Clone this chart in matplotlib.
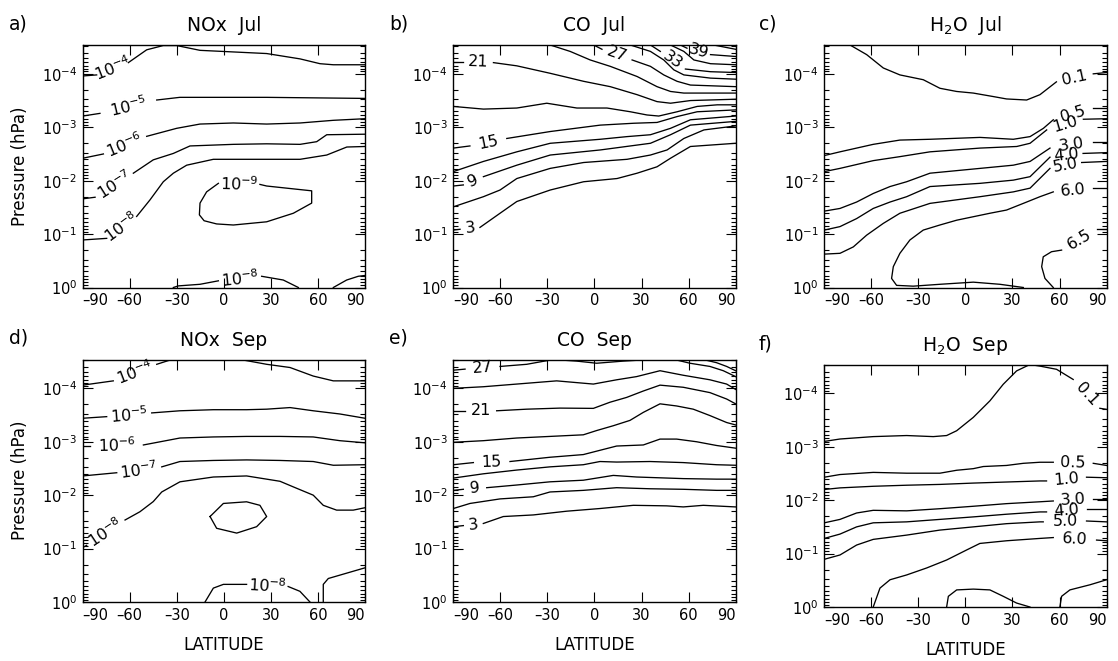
import numpy as np
import matplotlib.pyplot as plt
from matplotlib.ticker import NullLocator, FuncFormatter

plt.rcParams['font.family'] = ['DejaVu Sans']

LAT_TICKS = [-90, -60, -30, 0, 30, 60, 90]
LOGP_TOP = -4.54          # top of the pressure axis, log10(hPa)

# every contour: (label, latitudes, log10 pressure, index of the segment left open for the label)
NOX_JUL = [
    (r'$\mathdefault{10^{-4}}$',
     [-90, -81.1, -60.9, -49.2, -38.6, -30.1, -15.2, 6.05, 27.3, 48.6, 61.3, 69.8, 90],
     [-3.96, -3.98, -4.21, -4.45, -4.53, -4.53, -4.44, -4.41, -4.38, -4.28, -4.19, -4.17, -4.17], 1),
    (r'$\mathdefault{10^{-5}}$',
     [-90, -79, -42.8, -28.1, 6, 27.3, 90],
     [-3.21, -3.26, -3.51, -3.56, -3.56, -3.56, -3.54], 1),
    (r'$\mathdefault{10^{-6}}$',
     [-90, -76.8, -49.2, -30.1, -15.2, 6.05, 27.3, 48.6, 69.8, 90],
     [-2.42, -2.5, -2.83, -2.98, -3.06, -3.08, -3.06, -3.08, -3.13, -3.16], 1),
    (r'$\mathdefault{10^{-7}}$',
     [-90, -82.1, -57.7, -45, -32.2, -21.6, 6.05, 27.3, 48.6, 59.2, 65.6, 90],
     [-1.66, -1.69, -2.14, -2.39, -2.51, -2.65, -2.68, -2.69, -2.68, -2.73, -2.86, -2.87], 1),
    (r'$\mathdefault{10^{-8}}$',
     [-90, -74.7, -55.6, -47.1, -38.6, -32.2, -23.7, -6.7, 6.05, 27.3, 48.6, 65.6, 78.4, 90],
     [-0.89, -0.92, -1.33, -1.64, -1.98, -2.14, -2.29, -2.4, -2.4, -2.4, -2.4, -2.48, -2.63, -2.64], 1),
    (r'$\mathdefault{10^{-9}}$',
     [23, 27.3, 46.4, 56, 56, 44.3, 27.3, 6.05, -4.6, -12.6, -15.6, -15.2, -11, -3.5, 23],
     [-1.93, -1.9, -1.84, -1.81, -1.58, -1.39, -1.23, -1.17, -1.19, -1.25, -1.36, -1.58, -1.79, -1.95, -1.93], 13),
    (r'$\mathdefault{10^{-8}}$',
     [-32.2, -29, -15.2, -3.5, 24.1, 37.9, 47.5],
     [0, -0.03, -0.06, -0.125, -0.21, -0.14, 0], 3),
    (None, [69.8, 78.3, 85.7, 90], [0, -0.14, -0.21, -0.225], None),
]

CO_JUL = [
    ('3', [-90, -85.7, -73, -60.2, -49.5, -28.2, -6.9, 14.4, 27.2, 39.9, 48.5, 61.2, 90],
     [-1.075, -1.09, -1.125, -1.39, -1.61, -1.825, -1.98, -2.04, -2.14, -2.26, -2.42, -2.64, -2.7], 1),
    (None, [-90, -70.8, -60.2, -49.5, -28.2, -6.9, 20.8, 35.7, 46.3, 57, 69.8, 90],
     [-1.51, -1.7, -1.825, -2.04, -2.23, -2.34, -2.4, -2.48, -2.575, -2.79, -2.95, -3.025], None),
    ('9', [-90, -83.6, -70.8, -49.5, -28.2, 3.7, 22.9, 35.7, 48.5, 61.2, 90],
     [-1.9, -1.92, -2.075, -2.29, -2.48, -2.575, -2.65, -2.7, -2.86, -3.04, -3.11], 1),
    (None, [-90, -70.8, -49.5, -28.2, 3.7, 20.8, 35.7, 48.5, 61.2, 90],
     [-2.17, -2.36, -2.54, -2.7, -2.775, -2.825, -2.86, -2.98, -3.14, -3.21], None),
    ('15', [-90, -79.4, -55.9, -28.2, 3.7, 25, 39.9, 52.7, 65.5, 90],
     [-2.61, -2.65, -2.79, -2.92, -3.04, -3.075, -3.09, -3.2, -3.29, -3.325], 1),
    (None, [-90, -70.8, -49.5, -30.4, -11.2, 8, 22.9, 33.5, 41, 52.7, 65.5, 78.3, 90],
     [-3.39, -3.34, -3.36, -3.45, -3.36, -3.36, -3.29, -3.23, -3.21, -3.29, -3.39, -3.42, -3.42], None),
    ('21', [-90, -83.6, -64.4, -49.5, -28.2, -6.9, 10.1, 27.2, 39.9, 48.5, 61.2, 90],
     [-4.23, -4.23, -4.21, -4.15, -4.01, -3.86, -3.76, -3.61, -3.48, -3.45, -3.5, -3.525], 1),
    (None, [-28.2, -15.5, -2.7, 10.1, 27.2, 39.9, 48.5, 57, 90],
     [-4.54, -4.42, -4.26, -4.14, -3.95, -3.76, -3.67, -3.64, -3.64], None),
    ('27', [-0.5, 4.8, 24, 35.7, 44.2, 52.7, 61.2, 90],
     [-4.54, -4.46, -4.26, -4.14, -3.98, -3.86, -3.79, -3.76], 1),
    (None, [22.9, 35.7, 44.2, 50.6, 57, 74, 90],
     [-4.54, -4.42, -4.26, -4.075, -3.98, -3.92, -3.9], None),
    ('33', [35.7, 42, 58, 74, 90], [-4.54, -4.42, -4.09, -4.04, -4.025], 1),
    (None, [48.5, 57, 63.4, 74, 90], [-4.54, -4.42, -4.26, -4.19, -4.17], None),
    ('39', [54.8, 59, 74, 90], [-4.54, -4.48, -4.36, -4.325], 1),
    (None, [76, 90], [-4.54, -4.46], None),
]

H2O_JUL = [
    ('0.1', [-73.6, -63, -52.4, -41.8, -26.9, -16.3, -5.6, 5, 17.7, 26.2, 39, 47.5, 58, 81.5, 90],
     [-4.54, -4.36, -4.11, -3.98, -3.89, -3.73, -3.67, -3.64, -3.575, -3.53, -3.51, -3.61, -3.85, -4.0, -4.025], 12),
    ('0.5', [-90, -80, -58.8, -41.8, -22.6, 9.3, 30.5, 41.2, 49.7, 56, 81.5, 90],
     [-2.47, -2.54, -2.68, -2.76, -2.775, -2.81, -2.775, -2.825, -2.98, -3.14, -3.36, -3.36], 9),
    ('1.0', [-90, -80, -58.8, -41.8, -22.6, 9.3, 32.7, 41.2, 51.8, 75.2, 90],
     [-2.17, -2.23, -2.375, -2.45, -2.54, -2.61, -2.64, -2.7, -2.95, -3.15, -3.16], 8),
    ('3.0', [-90, -80, -69.4, -58.8, -48.1, -37.5, -22.6, 9.3, 30.5, 41.2, 53.9, 81.5, 90],
     [-1.43, -1.48, -1.6, -1.76, -1.89, -1.98, -2.14, -2.23, -2.29, -2.36, -2.61, -2.73, -2.73], 10),
    ('4.0', [-90, -80, -69.4, -58.8, -48.1, -37.5, -22.6, 9.3, 30.5, 41.2, 53.9, 75, 90],
     [-1.075, -1.14, -1.29, -1.48, -1.6, -1.7, -1.89, -1.95, -2.01, -2.075, -2.44, -2.51, -2.525], 10),
    ('5.0', [-90, -80, -71.5, -63, -52.4, -41.8, -22.6, 9.3, 30.5, 41.2, 53.9, 74.1, 90],
     [-0.625, -0.64, -0.76, -0.98, -1.2, -1.39, -1.575, -1.7, -1.79, -1.86, -2.23, -2.34, -2.36], 10),
    ('6.0', [36.9, 22, 5, -16.3, -33.3, -43.9, -47.1, -46, -41.8, -35.4, -26.9, -16.3, -5.6, 5, 15.6,
             26.2, 36.9, 47.5, 56, 81.5, 90],
     [0, -0.06, -0.1, -0.06, -0.025, -0.04, -0.17, -0.39, -0.64, -0.89, -1.075, -1.17, -1.26, -1.325,
      -1.39, -1.45, -1.575, -1.7, -1.79, -1.86, -1.86], 18),
    ('6.5', [56, 50.7, 48.6, 49.6, 54.9, 61.3, 83.6, 90],
     [0, -0.17, -0.39, -0.575, -0.67, -0.7, -1.09, -1.09], 5),
]

NOX_SEP = [
    (r'$\mathdefault{10^{-4}}$', [-90, -70.5, -42.8, -34.3], [-4.06, -4.14, -4.45, -4.53], 1),
    (None, [12.4, 27.3, 42.2, 57, 69.8, 90], [-4.53, -4.45, -4.39, -4.23, -4.14, -4.14], None),
    (r'$\mathdefault{10^{-5}}$',
     [-90, -74.7, -46, -28, -6.7, 14.5, 27.3, 42.2, 57, 74, 90],
     [-3.44, -3.47, -3.54, -3.58, -3.6, -3.6, -3.61, -3.64, -3.58, -3.52, -3.44], 1),
    (r'$\mathdefault{10^{-6}}$',
     [-90, -85.3, -51.3, -28, -6.7, 14.5, 35.8, 57, 74, 90],
     [-2.92, -2.92, -2.94, -3.07, -3.09, -3.1, -3.1, -3.09, -3.02, -2.98], 1),
    (r'$\mathdefault{10^{-7}}$',
     [-90, -68.3, -39.6, -28, -6.7, 14.5, 35.8, 57, 69.8, 90],
     [-2.36, -2.42, -2.53, -2.63, -2.65, -2.66, -2.65, -2.63, -2.56, -2.57], 1),
    (r'$\mathdefault{10^{-8}}$',
     [-90, -87.5, -63, -53.5, -45, -39.6, -28, -6.7, 14.5, 35.8, 44.3, 57, 63.4, 71.9, 82.5, 90],
     [-1.02, -1.06, -1.535, -1.69, -1.88, -2.06, -2.25, -2.34, -2.36, -2.26, -2.155, -2.0, -1.81,
      -1.72, -1.72, -1.765], 1),
    (None, [-8.8, -0.3, 14.5, 23, 27.3, 20.9, 8.2, -4.6, -8.8],
     [-1.6, -1.845, -1.876, -1.81, -1.6, -1.41, -1.29, -1.38, -1.6], None),
    (r'$\mathdefault{10^{-8}}$', [-12, -6.7, -0.3, 14.5, 41, 48.5, 54.9],
     [0, -0.26, -0.33, -0.33, -0.29, -0.2, 0], 3),
    (None, [63.4, 63.4, 66.6, 78.3, 90], [0, -0.33, -0.44, -0.54, -0.64], None),
]

CO_SEP = [
    ('3', [-90, -83.6, -70.85, -58.1, -39, -17.7, 3.5, 24.8, 46, 56.65, 69.4, 90],
     [-1.41, -1.43, -1.47, -1.6, -1.63, -1.7, -1.75, -1.81, -1.8, -1.78, -1.81, -1.78], 1),
    (None, [-90, -79.35, -60.2, -39, -28.35, -7.1, 14.15, 35.4, 56.65, 77.9, 90],
     [-1.75, -1.845, -1.93, -1.97, -2.06, -2.09, -2.14, -2.12, -2.11, -2.09, -2.09], None),
    ('9', [-90, -83.6, -68.7, -49.6, -28.35, -7.1, 12, 26.9, 56.65, 77.9, 90],
     [-2.09, -2.11, -2.14, -2.19, -2.25, -2.28, -2.37, -2.34, -2.31, -2.3, -2.3], 1),
    (None, [-90, -70.85, -49.6, -28.35, -7.1, 3.5, 14.15, 35.4, 56.65, 77.9, 90],
     [-2.32, -2.4, -2.47, -2.53, -2.57, -2.63, -2.62, -2.63, -2.61, -2.57, -2.56], None),
    ('15', [-90, -77.2, -53.85, -28.35, -7.1, 3.5, 14.15, 31.15, 41.8, 52.4, 65.15, 77.9, 90],
     [-2.57, -2.61, -2.63, -2.71, -2.76, -2.84, -2.92, -2.94, -3.05, -3.05, -3.0, -2.93, -2.88], 1),
    (None, [-90, -70.85, -49.6, -28.35, -7.1, 1.4, 12, 22.65, 31.15, 41.8, 52.4, 63, 73.65, 84.3, 90],
     [-2.99, -3.02, -3.07, -3.1, -3.13, -3.21, -3.3, -3.4, -3.55, -3.71, -3.67, -3.61, -3.49, -3.36,
      -3.315], None),
    ('21', [-90, -82.5, -62.35, -43.2, -22, -0.7, 9.9, 20.5, 31.15, 41.8, 56.65, 73.65, 84.3, 90],
     [-3.58, -3.58, -3.58, -3.61, -3.63, -3.625, -3.74, -3.83, -3.95, -4.06, -4.02, -3.92, -3.8, -3.71], 1),
    (None, [-90, -70.85, -49.6, -24.1, -0.7, 14.15, 26.9, 41.8, 56.65, 73.65, 84.3, 90],
     [-4.0, -4.03, -4.08, -4.14, -4.08, -4.16, -4.22, -4.33, -4.245, -4.16, -4.08, -3.98], None),
    ('27', [-90, -82.5, -60.2, -43.2, -26.2, -11.35, 1.4, 18.4, 35.4, 52.4, 60.9, 73.65, 82.15, 90],
     [-4.34, -4.36, -4.41, -4.45, -4.54, -4.51, -4.47, -4.51, -4.54, -4.53, -4.47, -4.41, -4.33, -4.22], 1),
    (None, [69.4, 77.9, 84.3, 90], [-4.54, -4.48, -4.41, -4.33], None),
]

H2O_SEP = [
    ('0.1', [-90, -80, -58.8, -37.5, -20.5, -12, -5.6, 5, 15.6, 24.1, 32.6, 41.1, 47.5, 58.1, 68.7, 85.7, 90],
     [-3.1, -3.145, -3.19, -3.21, -3.19, -3.21, -3.3, -3.55, -3.86, -4.17, -4.42, -4.54, -4.51, -4.45,
      -4.26, -3.72, -3.7], 14),
    ('0.5', [-90, -80, -58.8, -37.5, -16.3, -5.6, 5, 11.4, 26.2, 36.9, 47.5, 56, 81.5, 90],
     [-2.43, -2.48, -2.52, -2.505, -2.505, -2.56, -2.59, -2.63, -2.65, -2.69, -2.71, -2.71, -2.69, -2.65], 11),
    ('1.0', [-90, -80, -58.8, -37.5, -16.3, 5, 26.2, 47.5, 51.7, 77.2, 90],
     [-2.2, -2.23, -2.26, -2.28, -2.295, -2.32, -2.34, -2.36, -2.36, -2.43, -2.42], 8),
    ('3.0', [-90, -80, -69.4, -58.8, -37.5, -16.3, 5, 26.2, 47.5, 56, 81.5, 90],
     [-1.576, -1.64, -1.76, -1.81, -1.8, -1.84, -1.886, -1.935, -1.97, -1.985, -2.03, -2.03], 9),
    ('4.0', [-90, -80, -69.4, -58.8, -37.5, -16.3, 5, 26.2, 47.5, 51.7, 77.2, 90],
     [-1.284, -1.365, -1.5, -1.576, -1.594, -1.64, -1.687, -1.737, -1.78, -1.78, -1.84, -1.84], 9),
    ('5.0', [-90, -80, -69.4, -58.8, -37.5, -16.3, 5, 26.2, 47.5, 49.6, 77.2, 90],
     [-0.893, -0.974, -1.16, -1.266, -1.346, -1.44, -1.5, -1.56, -1.594, -1.594, -1.61, -1.594], 9),
    ('6.0', [-58.8, -54.5, -48.1, -37.5, -24.8, -12, 0.7, 9.2, 26.2, 47.5, 56, 83.6, 90],
     [0, -0.354, -0.51, -0.6, -0.73, -0.88, -1.067, -1.19, -1.24, -1.284, -1.3, -1.253, -1.24], 10),
    (None, [-12, -10.9, -5.6, 5, 15.6, 24.1, 32.6, 41.1],
     [0, -0.2, -0.32, -0.335, -0.32, -0.2, -0.074, 0], None),
    (None, [60.2, 61.3, 66.6, 79.4, 90], [0, -0.2, -0.32, -0.416, -0.51], None),
]

PANELS = [
    ('a)', 'NOx  Jul', NOX_JUL), ('b)', 'CO  Jul', CO_JUL), ('c)', r'H$_2$O  Jul', H2O_JUL),
    ('d)', 'NOx  Sep', NOX_SEP), ('e)', 'CO  Sep', CO_SEP), ('f)', r'H$_2$O  Sep', H2O_SEP),
]

W, H = 1118, 661
LEFTS = [82.7, 453.3, 824.3]
TOPS = [45.0, 359.5]
AX_W, AX_H = 282.3, 242.5
LETTER_X = [9, 389, 759]
SHIFT_F = 5      # panel f sits a few pixels lower in the reference


def draw_lines(ax, lines):
    for text, lat, logp, gap in lines:
        lat = np.asarray(lat, dtype=float)
        p = 10.0 ** np.asarray(logp, dtype=float)
        if gap is None:
            ax.plot(lat, p, color='k', lw=0.95)
            continue
        ax.plot(lat[:gap + 1], p[:gap + 1], color='k', lw=0.95)
        ax.plot(lat[gap + 1:], p[gap + 1:], color='k', lw=0.95)
        # label sits in the open segment, turned along it
        (x0, y0), (x1, y1) = ax.transData.transform([(lat[gap], p[gap]), (lat[gap + 1], p[gap + 1])])
        ang = np.degrees(np.arctan2(y1 - y0, x1 - x0))
        if ang > 90:
            ang -= 180
        elif ang < -90:
            ang += 180
        xm, ym = ax.transData.inverted().transform(((x0 + x1) / 2, (y0 + y1) / 2))
        ax.text(xm, ym, text, rotation=ang, rotation_mode='anchor',
                ha='center', va='center', fontsize=11.5)


lat_fmt = FuncFormatter(lambda v, pos: f'{v:.0f}'.replace('-', '\u2013'))

fig = plt.figure(figsize=(W / 100, H / 100), dpi=100)

for i, (letter, title, lines) in enumerate(PANELS):
    row, col = divmod(i, 3)
    left, top = LEFTS[col], TOPS[row]
    if i == 5:
        top += SHIFT_F
    ax = fig.add_axes([left / W, 1 - (top + AX_H) / H, AX_W / W, AX_H / H])
    ax.set_xlim(-90, 90)
    ax.set_yscale('log')
    ax.set_ylim(1, 10 ** LOGP_TOP)
    ax.set_xticks(LAT_TICKS)
    ax.xaxis.set_major_formatter(lat_fmt)
    ax.xaxis.set_minor_locator(NullLocator())
    ax.tick_params(which='both', direction='in', top=True, right=True, width=0.8, labelsize=10.5)
    ax.tick_params(which='major', length=7)
    ax.tick_params(which='minor', length=3.5)
    ax.tick_params(axis='x', pad=4)
    ax.tick_params(axis='y', pad=4)
    xt = ax.xaxis.get_major_ticks()
    xt[0].label1.set_horizontalalignment('left')
    xt[-1].label1.set_horizontalalignment('right')
    for s in ax.spines.values():
        s.set_linewidth(1.0)

    draw_lines(ax, lines)

    ax.set_title(title, fontsize=13.5, pad=10)
    fig.text(LETTER_X[col] / W, 1 - (top - 21) / H, letter, fontsize=13.5, ha='left', va='center')
    if col == 0:
        fig.text(20 / W, 1 - (top + AX_H / 2) / H, 'Pressure (hPa)', rotation=90,
                 fontsize=12, ha='center', va='center')
    if row == 1:
        fig.text((left + AX_W / 2) / W, 1 - (top + 285.5) / H, 'LATITUDE', fontsize=12,
                 ha='center', va='center')

fig.savefig('out.png', dpi=100)
